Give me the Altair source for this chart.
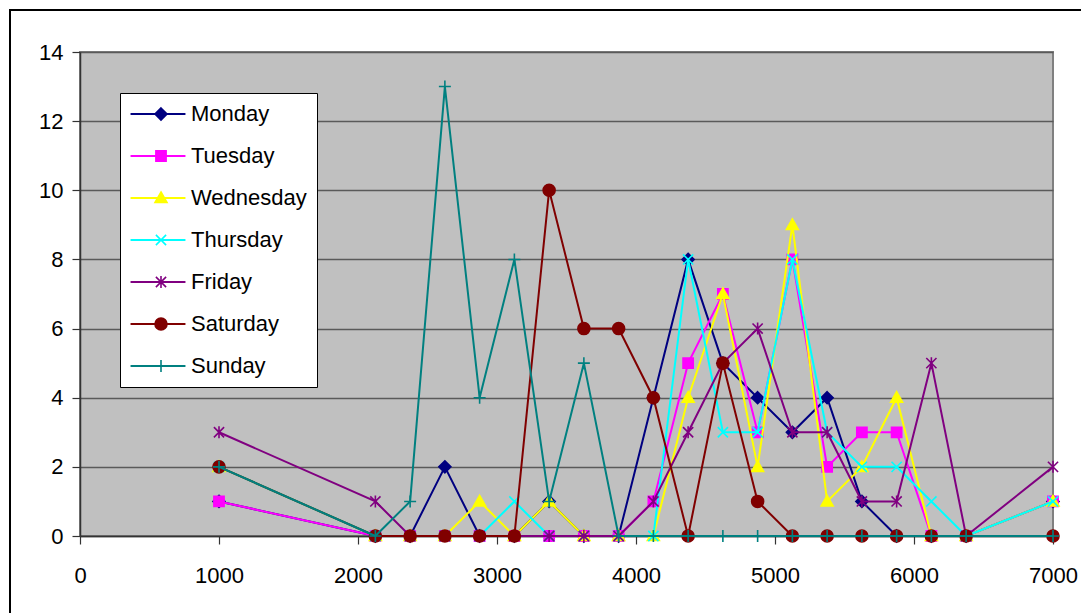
import altair as alt
import pandas as pd

# ---- data ----
x_vals = [1000, 2125, 2375, 2625, 2875, 3125, 3375, 3625, 3875, 4125,
          4375, 4625, 4875, 5125, 5375, 5625, 5875, 6125, 6375, 7000]
days = ["Monday", "Tuesday", "Wednesday", "Thursday", "Friday", "Saturday", "Sunday"]
monday    = [1, 0, 0, 2, 0, 0, 1, 0, 0, 4, 8, 5, 4, 3, 4, 1, 0, 0, 0, 1]
tuesday   = [1, 0, 0, 0, 0, 0, 0, 0, 0, 1, 5, 7, 3, 8, 2, 3, 3, 0, 0, 1]
wednesday = [2, 0, 0, 0, 1, 0, 1, 0, 0, 0, 4, 7, 2, 9, 1, 2, 4, 0, 0, 1]
thursday  = [2, 0, 0, 0, 0, 1, 0, 0, 0, 0, 8, 3, 3, 8, 3, 2, 2, 1, 0, 1]
friday    = [3, 1, 0, 0, 0, 0, 0, 0, 0, 1, 3, 5, 6, 3, 3, 1, 1, 5, 0, 2]
saturday  = [2, 0, 0, 0, 0, 0, 10, 6, 6, 4, 0, 5, 1, 0, 0, 0, 0, 0, 0, 0]
sunday    = [2, 0, 1, 13, 4, 8, 1, 5, 0, 0, 0, 0, 0, 0, 0, 0, 0, 0, 0, 0]
x_ticks = [0, 1000, 2000, 3000, 4000, 5000, 6000, 7000]
y_ticks = [0, 2, 4, 6, 8, 10, 12, 14]

series = dict(zip(days, [monday, tuesday, wednesday, thursday, friday, saturday, sunday]))
# marker key: same day names with a trailing space, so the marker legend is kept
# separate from the line legend (labels of the marker legend are hidden)
marker_keys = [d + " " for d in days]
rows = []
for d, mk in zip(days, marker_keys):
    for xv, yv in zip(x_vals, series[d]):
        rows.append({"Size": xv, "Count": yv, "Day": d, "Marker": mk})
df = pd.DataFrame(rows)

# ---- styles ----
colors = ["#000080", "#FF00FF", "#FFFF00", "#00FFFF", "#800080", "#800000", "#008080"]
marker_paths = [
    "M0,-1L1,0L0,1L-1,0Z",
    "M-0.85,-0.85H0.85V0.85H-0.85Z",
    "M0,-1L1,0.75H-1Z",
    "M-0.85,-0.85L0.85,0.85M-0.85,0.85L0.85,-0.85",
    "M-0.85,-0.85L0.85,0.85M-0.85,0.85L0.85,-0.85M0,-1V1",
    "M1,0A1,1,0,1,1,-1,0A1,1,0,1,1,1,0Z",
    "M-1,0H1M0,-1V1",
]

color_scale = alt.Scale(domain=days, range=colors)
mcolor_scale = alt.Scale(domain=marker_keys, range=colors)
shape_scale = alt.Scale(domain=marker_keys, range=marker_paths)

common_legend = dict(
    title=None, orient="none", legendX=40, legendY=41, padding=10,
    rowPadding=20, labelFont="Liberation Sans", labelFontSize=22,
    labelLimit=400,
)
# legend for the connecting lines (drawn underneath, with the white frame)
legend_lines = alt.Legend(
    **common_legend,
    labelExpr="datum.label + '\u00a0\u00a0\u00a0'",
    fillColor="white", strokeColor="black",
    symbolType="M-2.89,0H2.89", symbolSize=361, symbolStrokeWidth=2,
    symbolOffset=17, labelOffset=22, labelColor="black", zindex=0,
)
# legend for the markers (drawn on top, no frame, no labels)
legend_markers = alt.Legend(
    **common_legend,
    labelExpr="''",
    symbolSize=144, symbolStrokeWidth=1.6, symbolOffset=20,
    labelOffset=0, zindex=1,
)

X = alt.X("Size:Q", scale=alt.Scale(domain=[0, 7000], nice=False, zero=False),
          axis=alt.Axis(values=x_ticks, title=None, grid=False, tickSize=8,
                        labelPadding=21, format="d", labelFlush=False, labelOverlap=False))
Y = alt.Y("Count:Q", scale=alt.Scale(domain=[0, 14], nice=False),
          axis=alt.Axis(values=y_ticks, title=None, grid=True, tickSize=8,
                        labelPadding=9, format="d", labelFlush=False, labelOverlap=False))

border = alt.Chart(alt.Data(values=[{"a": 1}])).mark_rect(
    fillOpacity=0, stroke="black", strokeWidth=2
).encode(x=alt.value(-70), x2=alt.value(1030), y=alt.value(-42), y2=alt.value(590))

layers = [border]
for d in days:
    base = alt.Chart(df).transform_filter(alt.datum.Day == d)
    line = base.mark_line(strokeWidth=2).encode(
        x=X, y=Y, color=alt.Color("Day:N", scale=color_scale, legend=legend_lines))
    pts = base.mark_point(opacity=1, size=144, strokeWidth=1.6, filled=True).encode(
        x=X, y=Y,
        shape=alt.Shape("Marker:N", scale=shape_scale, legend=legend_markers),
        fill=alt.Fill("Marker:N", scale=mcolor_scale, legend=legend_markers),
        stroke=alt.Stroke("Marker:N", scale=mcolor_scale, legend=legend_markers))
    layers += [line, pts]

chart = alt.layer(*layers).properties(
    width=973, height=484,
    padding={"left": 80, "top": 52, "right": 28, "bottom": 77},
    autosize=alt.AutoSizeParams(type="none"),
    background="white",
).configure_view(
    fill="#C0C0C0", stroke="#808080", strokeWidth=2
).configure_axis(
    labelFont="Liberation Sans", labelFontSize=22, labelColor="black",
    domainColor="#333333", domainWidth=1.5, tickColor="#333333", tickWidth=1.2,
    gridColor="#5a5a5a", gridWidth=1.5,
)

chart.save("out.html", embed_options={"renderer": "svg", "actions": False})
